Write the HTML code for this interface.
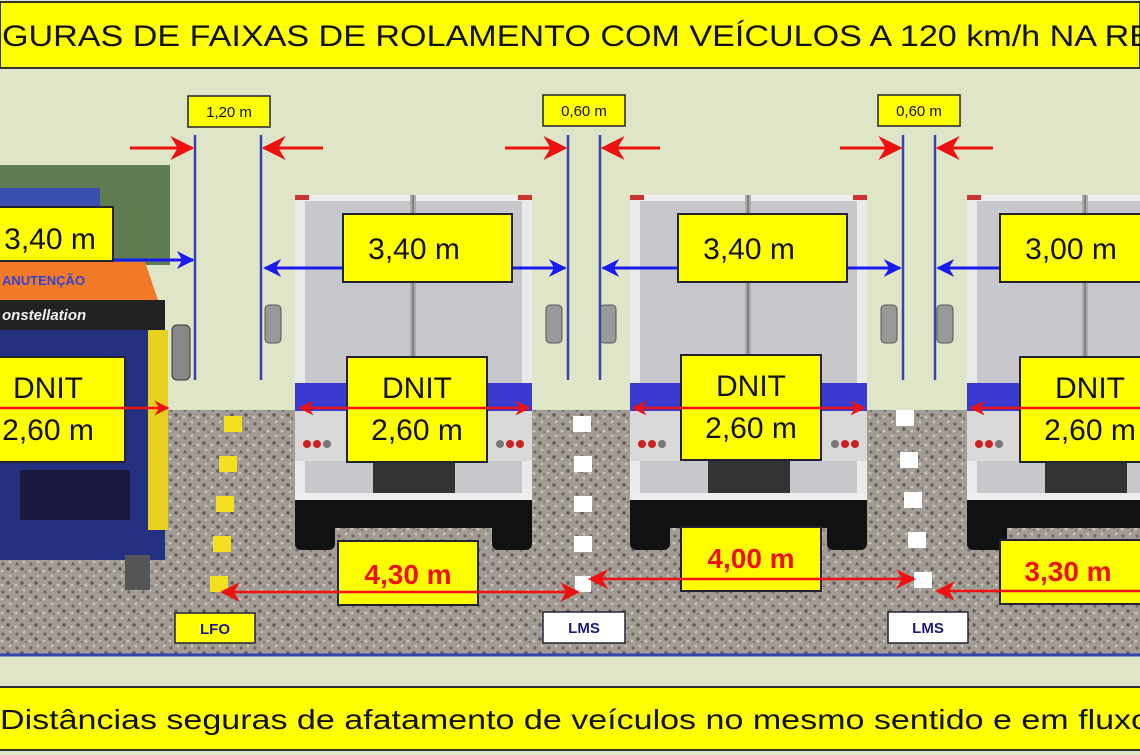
<!DOCTYPE html>
<html><head><meta charset="utf-8"><style>
html,body{margin:0;padding:0;background:#dfe6c8}
svg{display:block}
text{font-family:"Liberation Sans",sans-serif}
</style></head><body>
<svg width="1140" height="755" viewBox="0 0 1140 755" xmlns="http://www.w3.org/2000/svg">
<defs>
<pattern id="gp" width="14" height="14" patternUnits="userSpaceOnUse">
<rect width="14" height="14" fill="#a29c94"/>
<circle cx="3" cy="4" r="1.6" fill="#6e6862"/><circle cx="10" cy="2" r="1.2" fill="#d0cbc4"/>
<circle cx="8" cy="9" r="1.7" fill="#5f5a55"/><circle cx="2" cy="11" r="1.3" fill="#cfc9c2"/>
<circle cx="12" cy="12" r="1.1" fill="#7a746e"/>
</pattern>
<marker id="bl" viewBox="0 0 10 10" refX="9" refY="5" markerWidth="6" markerHeight="7" orient="auto-start-reverse"><path d="M0,0 L10,5 L0,10 L3,5z" fill="#1a1aee"/></marker>
<marker id="rd" viewBox="0 0 10 10" refX="9" refY="5" markerWidth="6" markerHeight="7" orient="auto-start-reverse"><path d="M0,0 L10,5 L0,10 L3,5z" fill="#ee1111"/></marker>
<marker id="rd2" viewBox="0 0 10 10" refX="9" refY="5" markerWidth="8" markerHeight="8" orient="auto-start-reverse"><path d="M0,0 L10,5 L0,10 L3,5z" fill="#ee1111"/></marker>
<g id="box">
 <rect x="0" y="0" width="237" height="300" fill="#c8c8cc"/>
 <rect x="0" y="0" width="237" height="6" fill="#eee"/>
 <rect x="0" y="0" width="10" height="300" fill="#eaeaea"/>
 <rect x="227" y="0" width="10" height="300" fill="#eaeaea"/>
 <rect x="0" y="0" width="14" height="5" fill="#c33"/><rect x="223" y="0" width="14" height="5" fill="#c33"/>
 <rect x="115" y="0" width="6" height="300" fill="#aaa"/><line x1="118" y1="0" x2="118" y2="300" stroke="#555"/>
 <rect x="0" y="188" width="237" height="28" fill="#3a3ad0"/>
 <rect x="0" y="216" width="237" height="50" fill="#d9d9d9"/>
 <circle cx="12" cy="249" r="4" fill="#c22"/><circle cx="22" cy="249" r="4" fill="#c22"/><circle cx="32" cy="249" r="4" fill="#777"/>
 <circle cx="205" cy="249" r="4" fill="#777"/><circle cx="215" cy="249" r="4" fill="#c22"/><circle cx="225" cy="249" r="4" fill="#c22"/>
 <rect x="78" y="262" width="82" height="40" fill="#333"/>
 <rect x="0" y="298" width="237" height="10" fill="#eee"/>
 <rect x="0" y="305" width="237" height="28" fill="#111"/>
 <rect x="0" y="325" width="40" height="30" rx="6" fill="#111"/><rect x="197" y="325" width="40" height="30" rx="6" fill="#111"/>
 <rect x="-30" y="110" width="16" height="38" rx="4" fill="#999" stroke="#555"/>
 <rect x="251" y="110" width="16" height="38" rx="4" fill="#999" stroke="#555"/>
</g>
</defs>
<rect width="1140" height="755" fill="#dfe6c8"/>
<rect x="0" y="2" width="1140" height="66" fill="#ffff00" stroke="#333" stroke-width="2"/>
<text x="2" y="46" font-size="30" fill="#111" textLength="1150" lengthAdjust="spacingAndGlyphs">GURAS DE FAIXAS DE ROLAMENTO COM VEÍCULOS A 120 km/h NA RE</text>
<rect x="0" y="410" width="1140" height="245" fill="url(#gp)"/>
<line x1="0" y1="655" x2="1140" y2="655" stroke="#3344aa" stroke-width="3"/>
<use href="#box" x="295" y="195"/>
<use href="#box" x="630" y="195"/>
<use href="#box" x="967" y="195"/>
<rect x="0" y="165" width="170" height="100" fill="#5f7d52"/>
<rect x="0" y="188" width="100" height="20" fill="#3b4fb0"/>
<path d="M0,262 L145,262 L158,300 L0,300z" fill="#f07a28"/>
<text x="2" y="285" font-size="13" font-weight="bold" fill="#3344cc">ANUTENÇÃO</text>
<rect x="0" y="300" width="165" height="30" fill="#222"/>
<text x="2" y="320" font-size="15" font-style="italic" font-weight="bold" fill="#eee">onstellation</text>
<rect x="0" y="330" width="165" height="230" fill="#243080"/>
<rect x="148" y="330" width="20" height="200" fill="#e6d020"/>
<rect x="20" y="470" width="110" height="50" fill="#1a1a40"/>
<rect x="172" y="325" width="18" height="55" rx="5" fill="#888" stroke="#333"/>
<rect x="125" y="555" width="25" height="35" fill="#555"/>
<g fill="#f2e020">
<rect x="224" y="416" width="18" height="16"/><rect x="219" y="456" width="18" height="16"/><rect x="216" y="496" width="18" height="16"/><rect x="213" y="536" width="18" height="16"/><rect x="210" y="576" width="18" height="16"/>
</g>
<g fill="#fff">
<rect x="573" y="416" width="18" height="16"/><rect x="574" y="456" width="18" height="16"/><rect x="574" y="496" width="18" height="16"/><rect x="574" y="536" width="18" height="16"/><rect x="575" y="576" width="16" height="16"/>
<rect x="896" y="410" width="18" height="16"/><rect x="900" y="452" width="18" height="16"/><rect x="904" y="492" width="18" height="16"/><rect x="908" y="532" width="18" height="16"/><rect x="914" y="572" width="18" height="16"/>
</g>
<g stroke="#3344aa" stroke-width="2.5">
<line x1="195" y1="135" x2="195" y2="380"/><line x1="261" y1="135" x2="261" y2="380"/>
<line x1="568" y1="135" x2="568" y2="380"/><line x1="600" y1="135" x2="600" y2="380"/>
<line x1="903" y1="135" x2="903" y2="380"/><line x1="935" y1="135" x2="935" y2="380"/>
</g>
<g font-size="15" text-anchor="middle" fill="#111">
<rect x="188" y="96" width="82" height="31" fill="#ffff00" stroke="#223" stroke-width="1.5"/><text x="229" y="117">1,20 m</text>
<rect x="543" y="95" width="82" height="31" fill="#ffff00" stroke="#223" stroke-width="1.5"/><text x="584" y="116">0,60 m</text>
<rect x="878" y="95" width="82" height="31" fill="#ffff00" stroke="#223" stroke-width="1.5"/><text x="919" y="116">0,60 m</text>
</g>
<g stroke="#ee1111" stroke-width="3" marker-end="url(#rd2)">
<line x1="130" y1="148" x2="192" y2="148"/><line x1="323" y1="148" x2="264" y2="148"/>
<line x1="505" y1="148" x2="565" y2="148"/><line x1="660" y1="148" x2="603" y2="148"/>
<line x1="840" y1="148" x2="900" y2="148"/><line x1="993" y1="148" x2="938" y2="148"/>
</g>
<g stroke="#1a1aee" stroke-width="3">
<line x1="0" y1="260" x2="193" y2="260" marker-end="url(#bl)"/>
<line x1="265" y1="268" x2="565" y2="268" marker-start="url(#bl)" marker-end="url(#bl)"/>
<line x1="603" y1="268" x2="900" y2="268" marker-start="url(#bl)" marker-end="url(#bl)"/>
<line x1="938" y1="268" x2="1140" y2="268" marker-start="url(#bl)"/>
</g>
<g font-size="30" fill="#111" text-anchor="middle">
<rect x="-2" y="207" width="115" height="54" fill="#ffff00" stroke="#223" stroke-width="2"/><text x="50" y="249">3,40 m</text>
<rect x="343" y="214" width="169" height="68" fill="#ffff00" stroke="#223" stroke-width="2"/><text x="414" y="259">3,40 m</text>
<rect x="678" y="214" width="169" height="68" fill="#ffff00" stroke="#223" stroke-width="2"/><text x="749" y="259">3,40 m</text>
<rect x="1000" y="214" width="145" height="68" fill="#ffff00" stroke="#223" stroke-width="2"/><text x="1071" y="259">3,00 m</text>
</g>
<g font-size="30" fill="#111" text-anchor="middle">
<rect x="-2" y="357" width="127" height="105" fill="#ffff00" stroke="#223" stroke-width="2"/><text x="48" y="398">DNIT</text><text x="48" y="440">2,60 m</text>
<rect x="347" y="357" width="140" height="105" fill="#ffff00" stroke="#223" stroke-width="2"/><text x="417" y="398">DNIT</text><text x="417" y="440">2,60 m</text>
<rect x="681" y="355" width="140" height="105" fill="#ffff00" stroke="#223" stroke-width="2"/><text x="751" y="396">DNIT</text><text x="751" y="438">2,60 m</text>
<rect x="1020" y="357" width="125" height="105" fill="#ffff00" stroke="#223" stroke-width="2"/><text x="1090" y="398">DNIT</text><text x="1090" y="440">2,60 m</text>
</g>
<g stroke="#ee1111" stroke-width="2.5">
<line x1="0" y1="408" x2="168" y2="408" marker-end="url(#rd)"/>
<line x1="300" y1="408" x2="529" y2="408" marker-start="url(#rd)" marker-end="url(#rd)"/>
<line x1="633" y1="408" x2="864" y2="408" marker-start="url(#rd)" marker-end="url(#rd)"/>
<line x1="971" y1="408" x2="1140" y2="408" marker-start="url(#rd)"/>
</g>
<g font-size="28" font-weight="bold" fill="#ee1111" text-anchor="middle">
<rect x="338" y="541" width="140" height="64" fill="#ffff00" stroke="#223" stroke-width="2"/><text x="408" y="584">4,30 m</text>
<rect x="681" y="527" width="140" height="64" fill="#ffff00" stroke="#223" stroke-width="2"/><text x="751" y="568">4,00 m</text>
<rect x="1000" y="540" width="145" height="64" fill="#ffff00" stroke="#223" stroke-width="2"/><text x="1068" y="581">3,30 m</text>
</g>
<g stroke="#ee1111" stroke-width="2.5">
<line x1="222" y1="592" x2="578" y2="592" marker-start="url(#rd2)" marker-end="url(#rd2)"/>
<line x1="590" y1="579" x2="914" y2="579" marker-start="url(#rd2)" marker-end="url(#rd2)"/>
<line x1="937" y1="591" x2="1140" y2="591" marker-start="url(#rd2)"/>
</g>
<g font-size="15" font-weight="bold" text-anchor="middle">
<rect x="175" y="613" width="80" height="30" fill="#ffff00" stroke="#223" stroke-width="1.5"/><text x="215" y="634" fill="#1a1a80">LFO</text>
<rect x="543" y="612" width="82" height="31" fill="#fff" stroke="#223" stroke-width="1.5"/><text x="584" y="633" fill="#1a1a80">LMS</text>
<rect x="888" y="612" width="80" height="31" fill="#fff" stroke="#223" stroke-width="1.5"/><text x="928" y="633" fill="#1a1a80">LMS</text>
</g>
<rect x="-2" y="687" width="1144" height="63" fill="#ffff00" stroke="#333" stroke-width="2"/>
<text x="0" y="729" font-size="28" fill="#111" textLength="1150" lengthAdjust="spacingAndGlyphs">Distâncias seguras de afatamento de veículos no mesmo sentido e em fluxo</text>
</svg>
</body></html>
